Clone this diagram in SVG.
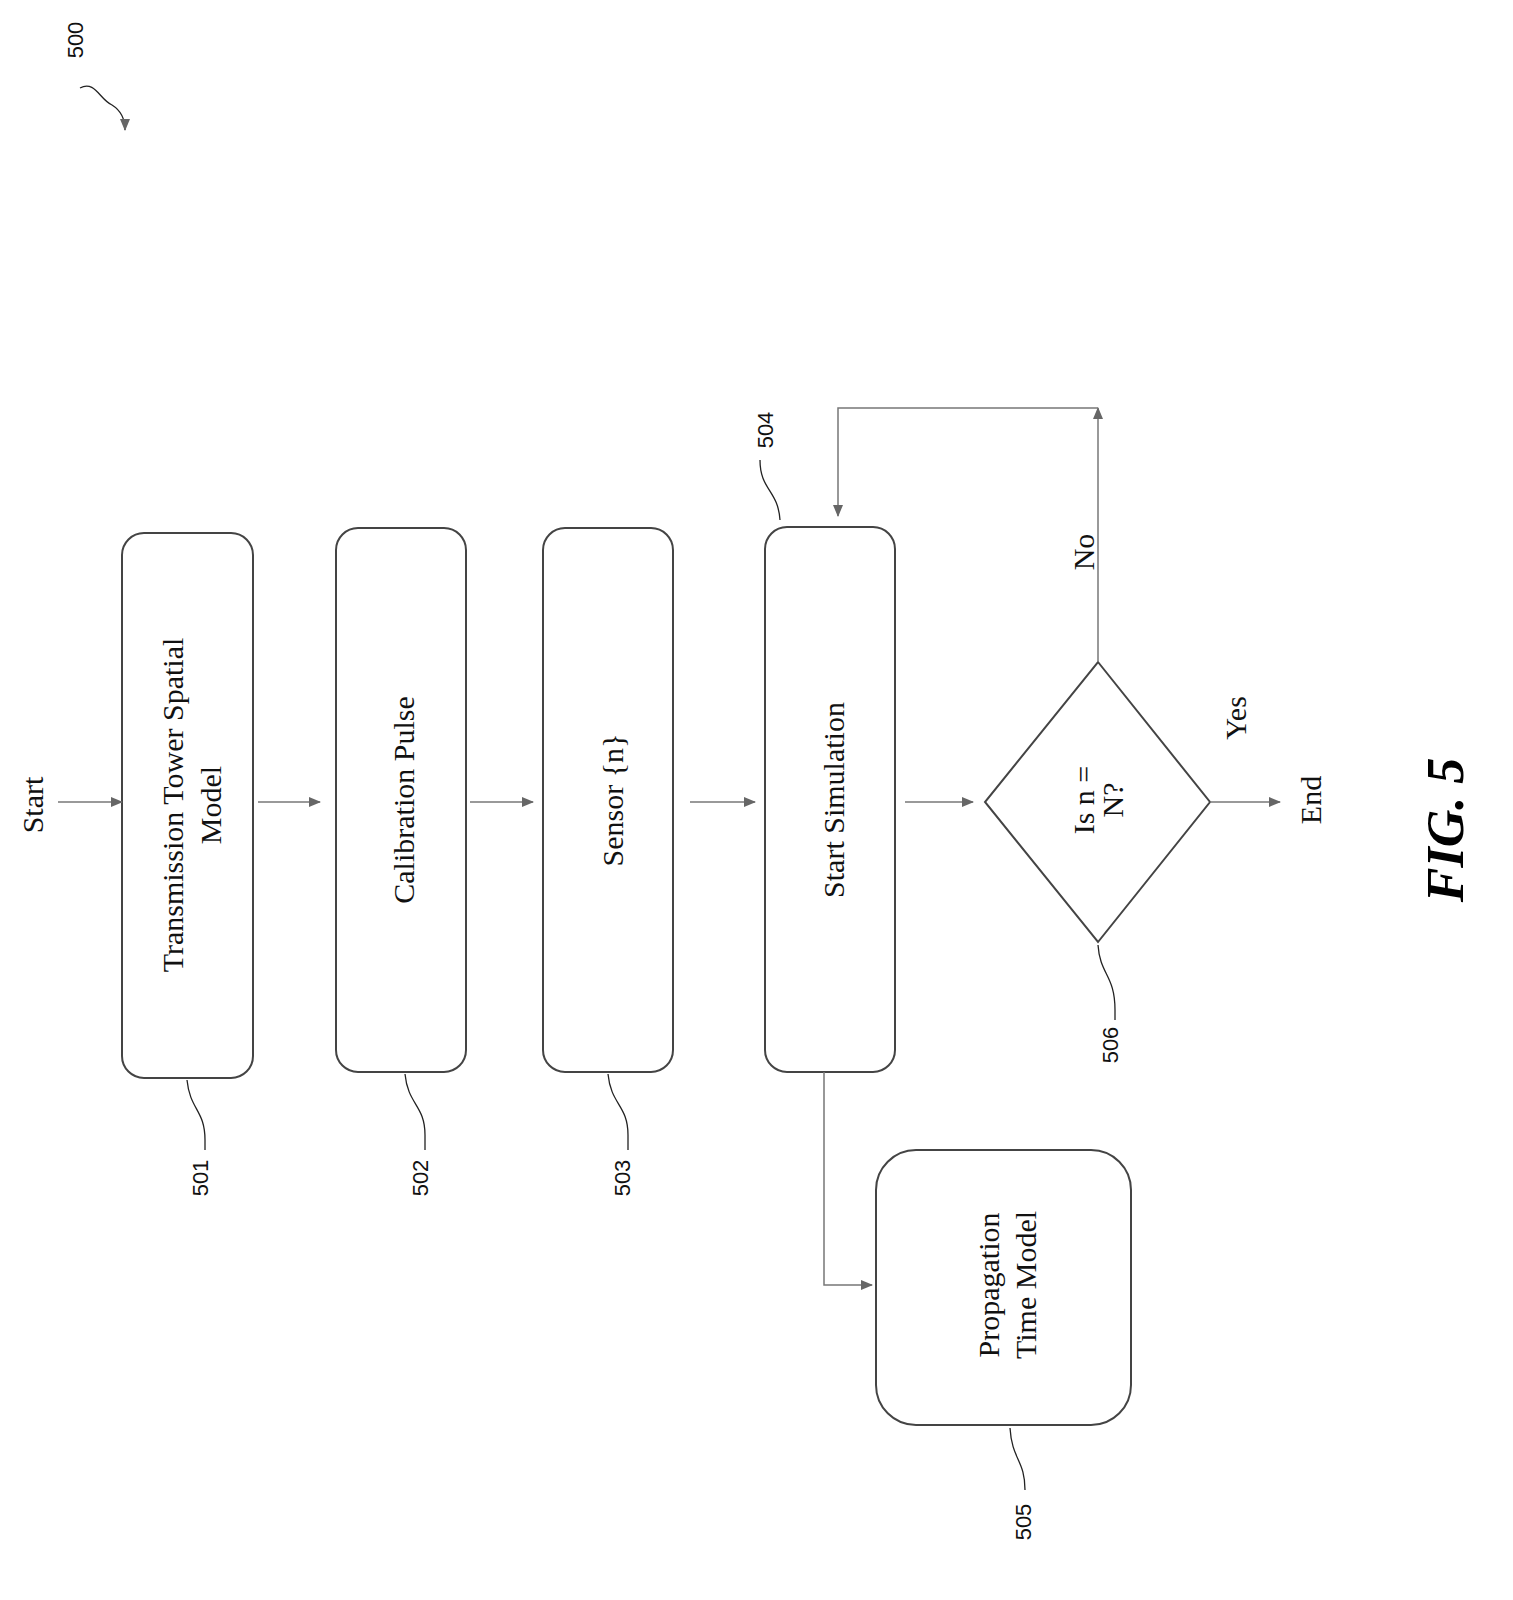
<svg xmlns="http://www.w3.org/2000/svg" width="1513" height="1600" viewBox="0 0 1513 1600">
<style>
.b{fill:#fff;stroke:#444;stroke-width:2}
.c{fill:none;stroke:#777;stroke-width:1.5}
.t{font-family:"Liberation Serif",serif;font-size:30px;fill:#111;text-anchor:middle;dominant-baseline:central}
.l{font-family:"Liberation Sans",sans-serif;font-size:22px;fill:#111;text-anchor:middle;dominant-baseline:central}
.ld{fill:none;stroke:#222;stroke-width:1.3}
</style>
<defs><marker id="a" markerWidth="12" markerHeight="10" refX="11" refY="5" orient="auto" markerUnits="userSpaceOnUse"><path d="M0,0 L12,5 L0,10 Z" fill="#666"/></marker></defs>
<rect width="1513" height="1600" fill="#fff"/>
<g id="n500"><text class="l" transform="translate(75,40) rotate(-90)">500</text><path class="ld" d="M80,88 C95,80 100,100 112,105 C120,110 125,118 125,130" marker-end="url(#a)"/></g>
<g id="start"><text class="t" transform="translate(32,805) rotate(-90)">Start</text></g>
<g id="n501"><rect class="b" x="122" y="533" width="131" height="545" rx="22"/><text class="t" transform="translate(172,805) rotate(-90)">Transmission Tower Spatial</text><text class="t" transform="translate(210,805) rotate(-90)">Model</text><path class="ld" d="M187,1080 C190,1110 205,1110 205,1140 L205,1150"/><text class="l" transform="translate(200,1178) rotate(-90)">501</text></g>
<g id="n502"><rect class="b" x="336" y="528" width="130" height="544" rx="22"/><text class="t" transform="translate(403,800) rotate(-90)">Calibration Pulse</text><path class="ld" d="M405,1074 C408,1105 425,1105 425,1135 L425,1150"/><text class="l" transform="translate(420,1178) rotate(-90)">502</text></g>
<g id="n503"><rect class="b" x="543" y="528" width="130" height="544" rx="22"/><text class="t" transform="translate(612,800) rotate(-90)">Sensor {n}</text><path class="ld" d="M608,1074 C611,1105 628,1105 628,1135 L628,1150"/><text class="l" transform="translate(622,1178) rotate(-90)">503</text></g>
<g id="n504"><rect class="b" x="765" y="527" width="130" height="545" rx="22"/><text class="t" transform="translate(833,800) rotate(-90)">Start Simulation</text><path class="ld" d="M780,520 C778,490 760,490 760,460"/><text class="l" transform="translate(765,430) rotate(-90)">504</text></g>
<g id="n505"><rect class="b" x="876" y="1150" width="255" height="275" rx="40"/><text class="t" transform="translate(988,1285) rotate(-90)">Propagation</text><text class="t" transform="translate(1025,1285) rotate(-90)">Time Model</text><path class="ld" d="M1010,1428 C1012,1460 1025,1460 1025,1490"/><text class="l" transform="translate(1023,1522) rotate(-90)">505</text></g>
<g id="n506"><polygon class="b" points="1098,662 1210,802 1098,942 985,802"/><text class="t" transform="translate(1083,800) rotate(-90)">Is n =</text><text class="t" transform="translate(1112,800) rotate(-90)">N?</text><path class="ld" d="M1098,945 C1100,975 1115,975 1115,1010 L1115,1020"/><text class="l" transform="translate(1110,1045) rotate(-90)">506</text></g>
<g id="labels"><text class="t" transform="translate(1083,552) rotate(-90)">No</text><text class="t" transform="translate(1235,718) rotate(-90)">Yes</text><text class="t" transform="translate(1310,800) rotate(-90)">End</text>
<text transform="translate(1445,830) rotate(-90)" style="font-family:'Liberation Serif',serif;font-size:52px;font-weight:bold;font-style:italic;text-anchor:middle;dominant-baseline:central">FIG. 5</text></g>
<g id="connectors">
<path class="c" d="M58,802 H122" marker-end="url(#a)"/>
<path class="c" d="M258,802 H320" marker-end="url(#a)"/>
<path class="c" d="M470,802 H533" marker-end="url(#a)"/>
<path class="c" d="M690,802 H755" marker-end="url(#a)"/>
<path class="c" d="M905,802 H973" marker-end="url(#a)"/>
<path class="c" d="M1210,802 H1280" marker-end="url(#a)"/>
<path class="c" d="M1098,662 V408" marker-end="url(#a)"/>
<path class="c" d="M1098,408 H838 V516" marker-end="url(#a)"/>
<path class="c" d="M824,1072 V1285 H872" marker-end="url(#a)"/>
</g>
</svg>
